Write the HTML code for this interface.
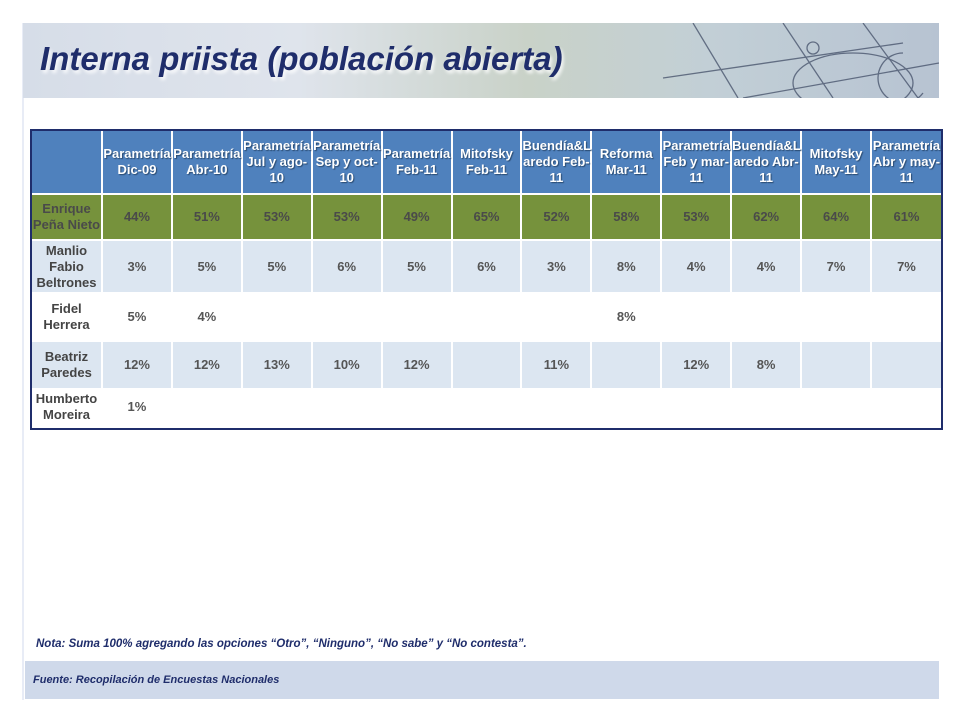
<!DOCTYPE html>
<html><head><meta charset="utf-8"><style>
body{margin:0;width:961px;height:721px;background:#fff;position:relative;overflow:hidden;font-family:"Liberation Sans",sans-serif}
.panel{position:absolute;left:22px;top:23px;width:917px;height:677px;background:#fff;border-left:2px solid #e8ecf6}
.banner{position:absolute;left:23px;top:23px;width:916px;height:75px;background:linear-gradient(90deg,#d6dde8 0%,#dfe4ec 30%,#c9d2c8 55%,#c2cfd6 75%,#b7c3d2 100%);overflow:hidden}
.title{position:absolute;left:40px;top:40px;font-size:33px;font-weight:bold;font-style:italic;color:#1f2d6b;letter-spacing:0px;text-shadow:2px 3px 3px rgba(255,255,255,.8)}
.wrap{position:absolute;left:30px;top:129px;width:909px;height:297px;border:2px solid #1f2d6b}
table{position:absolute;left:0;top:0;width:909px;border-collapse:collapse;table-layout:fixed}
td{border:2px solid #fff;text-align:center;font-weight:bold;font-size:13px;color:#555;padding:0;line-height:16px}
tr.h td{background:#4f81bd;color:#fff;height:62px;text-shadow:1px 1px 1px #2a4a70;border-top:0}
tr.g td{background:#76923c;height:44px;color:#4a4a4a}
tr.a td{background:#dce6f1}
tr.w td{background:#fff}
td:first-child{border-left:0}
td:last-child{border-right:0}
td.n{color:#444}
.note{position:absolute;left:36px;top:638px;font-size:11.5px;font-style:italic;font-weight:bold;color:#1f2d6b}
.foot{position:absolute;left:25px;top:661px;width:914px;height:38px;background:#cfd9ea}
.foot span{position:absolute;left:8px;top:13px;font-size:11px;font-style:italic;font-weight:bold;color:#1f2d6b}
</style></head><body>
<div class="panel"></div>
<div class="banner">
<svg width="916" height="75" style="position:absolute;left:0;top:0">
<g stroke="#3a4660" stroke-width="1.3" fill="none" opacity=".7">
<line x1="670" y1="0" x2="715" y2="75"/><line x1="760" y1="0" x2="810" y2="75"/>
<line x1="840" y1="0" x2="895" y2="75"/><line x1="640" y1="55" x2="880" y2="20"/>
<line x1="720" y1="75" x2="916" y2="40"/><ellipse cx="830" cy="60" rx="60" ry="30"/>
<circle cx="790" cy="25" r="6"/><path d="M880 30 a25 25 0 1 0 20 40"/>
</g></svg></div>
<div class="title">Interna priista (población abierta)</div>
<div class="wrap">
<table>
<colgroup><col style="width:70px"><col span="12"></colgroup>
<tr class="h"><td></td><td>Parametría Dic-09</td><td>Parametría Abr-10</td><td>Parametría Jul y ago-10</td><td>Parametría Sep y oct-10</td><td>Parametría Feb-11</td><td>Mitofsky Feb-11</td><td>Buendía&amp;L aredo Feb-11</td><td>Reforma Mar-11</td><td>Parametría Feb y mar-11</td><td>Buendía&amp;L aredo Abr-11</td><td>Mitofsky May-11</td><td>Parametría Abr y may-11</td></tr>
<tr class="g"><td>Enrique Peña Nieto</td><td>44%</td><td>51%</td><td>53%</td><td>53%</td><td>49%</td><td>65%</td><td>52%</td><td>58%</td><td>53%</td><td>62%</td><td>64%</td><td>61%</td></tr>
<tr class="a" style="height:53px"><td class="n">Manlio Fabio Beltrones</td><td>3%</td><td>5%</td><td>5%</td><td>6%</td><td>5%</td><td>6%</td><td>3%</td><td>8%</td><td>4%</td><td>4%</td><td>7%</td><td>7%</td></tr>
<tr class="w" style="height:48px"><td class="n">Fidel Herrera</td><td>5%</td><td>4%</td><td></td><td></td><td></td><td></td><td></td><td>8%</td><td></td><td></td><td></td><td></td></tr>
<tr class="a" style="height:48px"><td class="n">Beatriz Paredes</td><td>12%</td><td>12%</td><td>13%</td><td>10%</td><td>12%</td><td></td><td>11%</td><td></td><td>12%</td><td>8%</td><td></td><td></td></tr>
<tr class="w" style="height:36px"><td class="n">Humberto Moreira</td><td>1%</td><td></td><td></td><td></td><td></td><td></td><td></td><td></td><td></td><td></td><td></td><td></td></tr>
</table>
</div>
<div class="note">Nota: Suma 100% agregando las opciones “Otro”, “Ninguno”, “No sabe” y “No contesta”.</div>
<div class="foot"><span>Fuente: Recopilación de Encuestas Nacionales</span></div>
</body></html>
